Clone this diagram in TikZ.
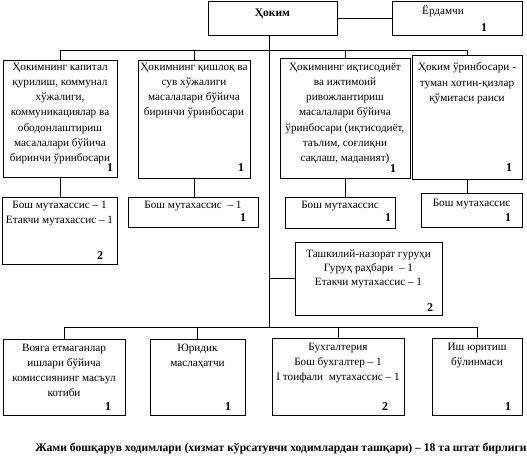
\documentclass[tikz,border=0pt]{standalone}
\usepackage{fontspec}
\setmainfont{Liberation Serif}
\usetikzlibrary{positioning, fit}

\begin{document}
\begin{tikzpicture}[x=1pt, y=-1pt,
  box/.style={draw, line width=0.9pt, inner sep=0pt},
  txt/.style={align=center, inner sep=0pt, font=\fontsize{11.2}{15.3}\selectfont},
  num/.style={inner sep=0pt, font=\fontsize{12}{14}\selectfont\bfseries},
  ln/.style={line width=0.9pt}
]
  \useasboundingbox (0,0) rectangle (527,464);

  % Ҳоким ва ёрдамчи
  \node[box, fit={(208,1) (337,35)}, font=\fontsize{11.5}{13}\selectfont\bfseries] (hokim) {Ҳоким};
  \node[box, fit={(392,1) (522,35)}] (yordam) {};
  \node[txt] (yordamt) at (443,11) {Ёрдамчи};
  \node[num] (yordamn) at (484,28) {1};
  \draw[ln] (hokim.east) -- (yordam.west);

  % ўринбосарлар
  \node[box, fit={(3,60) (117,177)}] (b1) {};
  \node[box, fit={(138,60) (250,178)}] (b2) {};
  \node[box, fit={(280,58) (410,178)}] (b3) {};
  \node[box, fit={(412,55) (522,179)}] (b4) {};
  \node[txt, anchor=north] (b1t) at ([yshift=-3pt]b1.north)
    {Ҳокимнинг капитал\\ қурилиш, коммунал\\ хўжалиги,\\ коммуникациялар ва\\ ободонлаштириш\\ масалалари бўйича\\ биринчи ўринбосари};
  \node[txt, anchor=north] (b2t) at ([yshift=-3pt]b2.north)
    {Ҳокимнинг қишлоқ ва\\ сув хўжалиги\\ масалалари бўйича\\ биринчи ўринбосари};
  \node[txt, anchor=north] (b3t) at ([yshift=-5pt]b3.north)
    {Ҳокимнинг иқтисодиёт\\ ва ижтимоий\\ ривожлантириш\\ масалалари бўйича\\ ўринбосари (иқтисодиёт,\\ таълим, соғлиқни\\ сақлаш, маданият)};
  \node[txt, anchor=north] (b4t) at ([yshift=-8pt]b4.north)
    {Ҳоким ўринбосари -\\ туман хотин-қизлар\\ қўмитаси раиси};
  \node[num] (b1n) at (110,168) {1};
  \node[num] (b2n) at (241,168) {1};
  \node[num] (b3n) at (393,169) {1};
  \node[num] (b4n) at (509,168) {1};

  % бўлимлар
  \node[box, fit={(2,197) (117,264)}] (s1) {};
  \node[box, fit={(128,197) (258,227)}] (s2) {};
  \node[box, fit={(285,197) (395,228)}] (s3) {};
  \node[box, fit={(421,193) (522,227)}] (s4) {};
  \node[txt, anchor=north] (s1t) at ([yshift=-4pt]s1.north) {Бош мутахассис – 1\\ Етакчи мутахассис – 1};
  \node[txt, anchor=north] (s2t) at ([yshift=-4pt]s2.north) {Бош мутахассис~ – 1};
  \node[txt, anchor=north] (s3t) at ([yshift=-4pt]s3.north) {Бош мутахассис};
  \node[txt, anchor=north] (s4t) at ([yshift=-6pt]s4.north) {Бош мутахассис};
  \node[num] (s1n) at (100,256) {2};
  \node[num] (s2n) at (243,218) {1};
  \node[num] (s3n) at (388,218) {1};
  \node[num] (s4n) at (508,218) {1};

  % ташкилий-назорат
  \node[box, fit={(295,242) (442,315)}] (tn) {};
  \node[txt, anchor=north, font=\fontsize{11.2}{13.8}\selectfont] (tnt) at ([yshift=-8pt]tn.north)
    {Ташкилий-назорат гуруҳи\\ Гуруҳ раҳбари~ – 1\\ Етакчи мутахассис – 1};
  \node[num] (tnn) at (430,308) {2};

  % пастки бўлимлар
  \node[box, fit={(3,339) (125,415)}] (f) {};
  \node[box, fit={(150,339) (245,415)}] (g) {};
  \node[box, fit={(272,338) (404,415)}] (h) {};
  \node[box, fit={(432,338) (522,415)}] (i) {};
  \node[txt, anchor=north] (ft) at ([yshift=-5pt]f.north)
    {Вояга етмаганлар\\ ишлари бўйича\\ комиссиянинг масъул\\ котиби};
  \node[txt, anchor=north] (gt) at ([yshift=-5pt]g.north) {Юридик\\ маслаҳатчи};
  \node[txt, anchor=north] (ht) at ([yshift=-5pt]h.north)
    {Бухгалтерия\\ Бош бухгалтер – 1\\ I тоифали~ мутахассис – 1};
  \node[txt, anchor=north] (it) at ([yshift=-5pt]i.north) {Иш юритиш\\ бўлинмаси};
  \node[num] (fn) at (108,407) {1};
  \node[num] (gn) at (228,407) {1};
  \node[num] (hn) at (385,407) {2};
  \node[num] (in) at (508,407) {1};

  % боғланишлар
  \coordinate (tb) at (269,50);
  \coordinate (mb) at (269,327);
  \draw[ln] (hokim.south -| mb) -- (mb);
  \draw[ln] (b1.north) -- (b1.north |- tb) -- (b4.north |- tb) -- (b4.north);
  \draw[ln] (b2.north) -- (b2.north |- tb);
  \draw[ln] (b3.north) -- (b3.north |- tb);
  \draw[ln] (b1.south) -- (b1.south |- s1.north);
  \draw[ln] (b2.south) -- (b2.south |- s2.north);
  \draw[ln] (b3.south) -- (b3.south |- s3.north);
  \draw[ln] (b4.south) -- (b4.south |- s4.north);
  \draw[ln] (tn.west -| mb) -- (tn.west);
  \draw[ln] (f.north) -- (f.north |- mb) -- (i.north |- mb) -- (i.north);
  \draw[ln] (g.north) -- (g.north |- mb);
  \draw[ln] (h.north) -- (h.north |- mb);

  % жами
  \node[font=\fontsize{11.6}{13}\selectfont\bfseries] (jami) at (281,449)
    {Жами бошқарув ходимлари (хизмат кўрсатувчи ходимлардан ташқари) – 18 та штат бирлиги};
\end{tikzpicture}
\end{document}
